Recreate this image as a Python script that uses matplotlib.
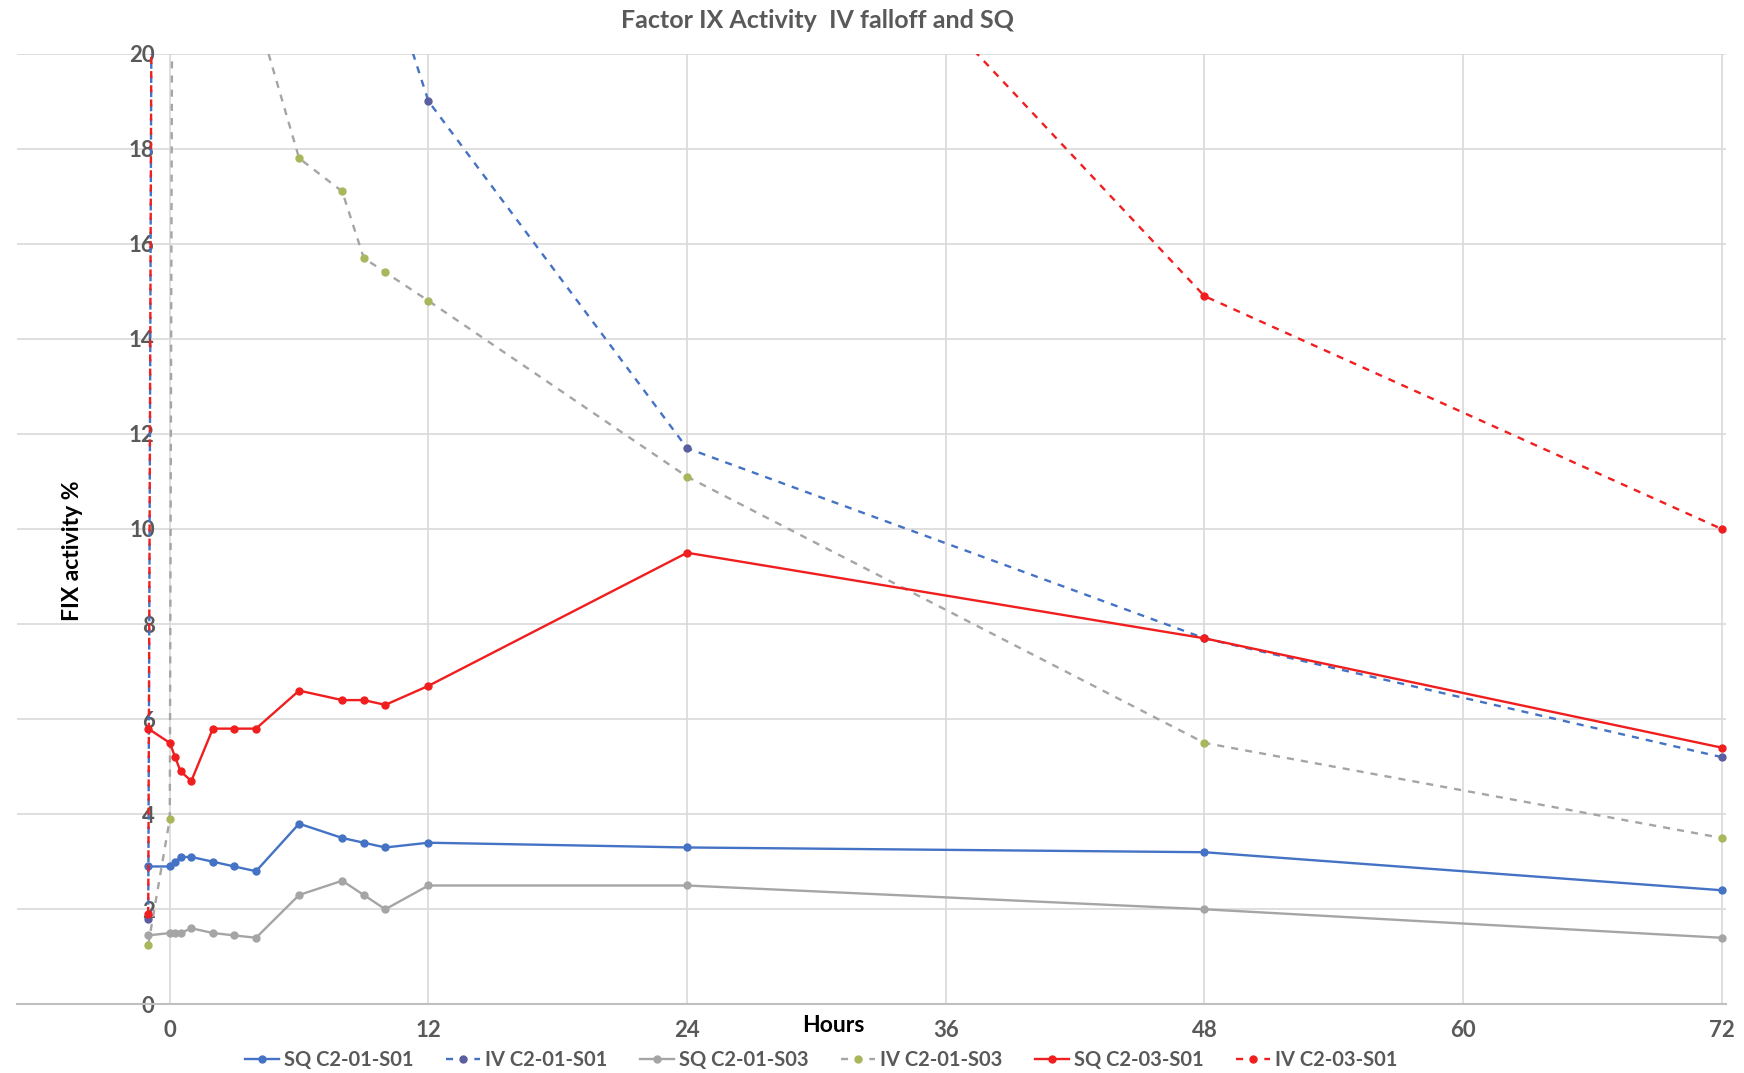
import matplotlib.pyplot as plt

plt.rcParams['font.family'] = ['Lato', 'DejaVu Sans']

# Hours after dose (-1 = pre-dose)
sq_hours = [-1, 0, 0.25, 0.5, 1, 2, 3, 4, 6, 8, 9, 10, 12, 24, 48, 72]
sq_c201_s01 = [2.9, 2.9, 3.0, 3.1, 3.1, 3.0, 2.9, 2.8, 3.8, 3.5, 3.4, 3.3, 3.4, 3.3, 3.2, 2.4]
sq_c201_s03 = [1.45, 1.5, 1.5, 1.5, 1.6, 1.5, 1.45, 1.4, 2.3, 2.6, 2.3, 2.0, 2.5, 2.5, 2.0, 1.4]
sq_c203_s01 = [5.8, 5.5, 5.2, 4.9, 4.7, 5.8, 5.8, 5.8, 6.6, 6.4, 6.4, 6.3, 6.7, 9.5, 7.7, 5.4]

# IV series (early peak values run far above the 20 % axis limit)
iv_c201_s01_hours = [-1, 0.083, 10, 12, 24, 48, 72]
iv_c201_s01 = [1.8, 140, 21.8, 19.0, 11.7, 7.7, 5.2]

iv_c201_s03_hours = [-1, 0, 0.25, 4, 6, 8, 9, 10, 12, 24, 48, 72]
iv_c201_s03 = [1.25, 3.9, 44, 20.9, 17.8, 17.1, 15.7, 15.4, 14.8, 11.1, 5.5, 3.5]

iv_c203_s01_hours = [-1, 0.083, 24, 48, 72]
iv_c203_s01 = [1.9, 140, 26.5, 14.9, 10.0]

blue = "#4472C4"
gray = "#A5A5A5"
red = "#F01E1E"
text_gray = "#595959"

fig = plt.figure(figsize=(17.44, 10.73), dpi=100)
ax = fig.add_axes([0.0096, 0.064, 0.9801, 0.886])

lw = 1.7
ms = 5
ax.plot(sq_hours, sq_c201_s01, "-o", color=blue, lw=lw, ms=ms, label="SQ C2-01-S01")
ax.plot(iv_c201_s01_hours, iv_c201_s01, "--o", color=blue, lw=lw, ms=ms,
        mfc="#5B5E9E", mec="#5B5E9E", dashes=(3, 3), label="IV C2-01-S01")
ax.plot(sq_hours, sq_c201_s03, "-o", color=gray, lw=lw, ms=ms, label="SQ C2-01-S03")
ax.plot(iv_c201_s03_hours, iv_c201_s03, "--o", color=gray, lw=lw, ms=ms,
        mfc="#AAB65C", mec="#AAB65C", dashes=(3, 3), label="IV C2-01-S03")
ax.plot(sq_hours, sq_c203_s01, "-o", color=red, lw=lw, ms=ms, label="SQ C2-03-S01")
ax.plot(iv_c203_s01_hours, iv_c203_s01, "--o", color=red, lw=lw, ms=ms,
        dashes=(3, 3), label="IV C2-03-S01")

ax.set_xlim(-7.1, 72.2)
ax.set_ylim(0, 20)
ax.set_xticks(range(0, 73, 12))
ax.set_yticks(range(0, 21, 2))
ax.grid(True, color="#D9D9D9", lw=1.2, zorder=0)
ax.set_axisbelow(True)

for side in ["top", "right", "left"]:
    ax.spines[side].set_visible(False)
ax.spines["left"].set_position(("data", -0.7))
ax.spines["bottom"].set_color("#BFBFBF")
ax.spines["bottom"].set_linewidth(1.5)

ax.tick_params(axis="y", length=0, pad=0, labelsize=16, labelcolor=text_gray)
ax.tick_params(axis="x", length=0, pad=11, labelsize=16, labelcolor=text_gray)
for lab in ax.get_xticklabels() + ax.get_yticklabels():
    lab.set_fontweight("bold")

fig.text(0.469, 0.981, "Factor IX Activity  IV falloff and SQ", ha="center", va="center",
         fontsize=18, fontweight="bold", color=text_gray)
fig.text(0.0415, 0.487, "FIX activity %", rotation=90, ha="center", va="center",
         fontsize=16.5, fontweight="bold", color="black")
fig.text(0.478, 0.0443, "Hours", ha="center", va="center",
         fontsize=16.5, fontweight="bold", color="black")

fig.legend(loc="center", bbox_to_anchor=(0.471, 0.012), ncol=6, frameon=False,
           handlelength=1.7, handletextpad=0.25, columnspacing=1.6,
           labelcolor=text_gray, prop={"weight": "bold", "size": 14.5})

fig.savefig("out.png", dpi=100)
